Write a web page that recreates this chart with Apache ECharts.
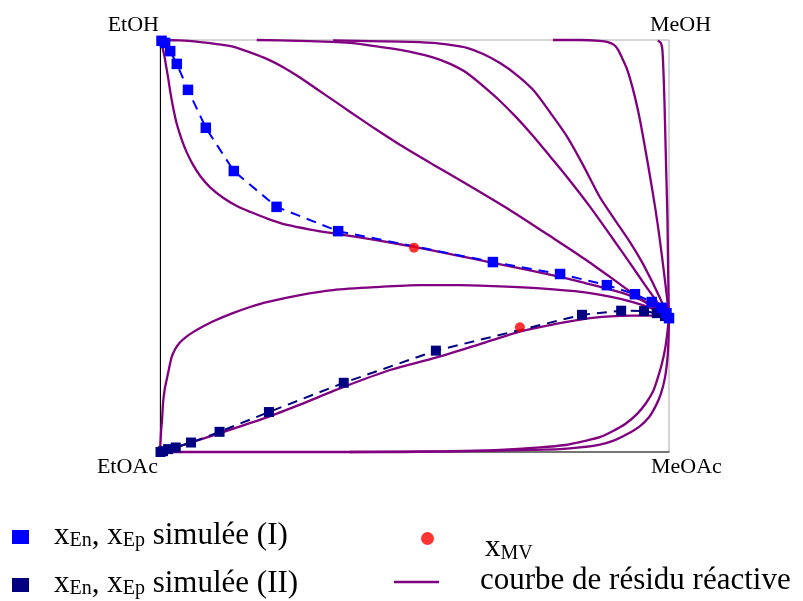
<!DOCTYPE html>
<html><head><meta charset="utf-8">
<script src="https://cdn.jsdelivr.net/npm/echarts@6/dist/echarts.min.js"></script>
<style>html,body{margin:0;padding:0;background:#fff}#c{width:803px;height:601px}</style>
</head><body><div id="c"></div>
<script>
// Corner (component) labels
const cornerLabels = ['EtOH', 'MeOH', 'EtOAc', 'MeOAc'];
// Series names
const nameSimI = 'x_En, x_Ep simulée (I)';
const nameSimII = 'x_En, x_Ep simulée (II)';
const nameMV = 'x_MV';
const nameRC = 'courbe de résidu réactive';

// simulated profile (I)  [x, y]
const simI = [[0.003,0.998],[0.010,0.993],[0.020,0.973],[0.033,0.942],[0.055,0.879],[0.090,0.787],[0.145,0.682],[0.229,0.595],[0.350,0.536],[0.654,0.461],[0.786,0.432],[0.878,0.405],[0.933,0.383],[0.966,0.364],[0.986,0.350],[0.995,0.337],[1.0,0.325]];
// simulated profile (II)
const simII = [[0.001,0.0],[0.006,0.002],[0.016,0.007],[0.031,0.011],[0.061,0.023],[0.117,0.049],[0.214,0.097],[0.361,0.168],[0.542,0.246],[0.829,0.333],[0.906,0.343],[0.951,0.342],[0.976,0.337],[0.992,0.330],[1.0,0.325]];
// x_MV points
const xMV = [[0.499,0.496],[0.707,0.303]];

// reactive residue curves
const rcF = [[0,1],[0.003,0.990],[0.006,0.976],[0.009,0.959],[0.012,0.937],[0.016,0.908],[0.020,0.876],[0.026,0.835],[0.033,0.796],[0.043,0.757],[0.053,0.726],[0.065,0.697],[0.079,0.670],[0.098,0.643],[0.124,0.617],[0.151,0.597],[0.177,0.583],[0.212,0.566],[0.250,0.551],[0.295,0.540],[0.350,0.529],[0.422,0.515],[0.499,0.498],[0.580,0.478],[0.654,0.459],[0.727,0.441],[0.786,0.425],[0.835,0.410],[0.876,0.397],[0.908,0.386],[0.933,0.375],[0.953,0.365],[0.967,0.357],[0.978,0.348],[0.988,0.340],[1,0.325]];
const rcG = [[0,0],[0.001,0.024],[0.002,0.049],[0.004,0.078],[0.006,0.119],[0.009,0.150],[0.013,0.175],[0.018,0.204],[0.023,0.231],[0.030,0.250],[0.039,0.266],[0.051,0.279],[0.065,0.291],[0.079,0.301],[0.108,0.319],[0.143,0.337],[0.177,0.352],[0.210,0.364],[0.275,0.381],[0.340,0.393],[0.422,0.400],[0.511,0.405],[0.589,0.405],[0.668,0.402],[0.747,0.397],[0.831,0.388],[0.884,0.377],[0.929,0.364],[0.963,0.350],[0.988,0.334],[1,0.325]];
const rcH = [[0,0],[0.033,0.012],[0.118,0.046],[0.214,0.086],[0.275,0.115],[0.361,0.158],[0.452,0.199],[0.542,0.229],[0.629,0.262],[0.707,0.292],[0.766,0.308],[0.829,0.322],[0.884,0.329],[0.929,0.331],[0.963,0.331],[0.988,0.330],[1,0.325]];
const rcC = [[0,1],[0.039,0.999],[0.079,0.995],[0.112,0.990],[0.143,0.984],[0.177,0.970],[0.212,0.953],[0.242,0.934],[0.275,0.909],[0.308,0.881],[0.340,0.854],[0.373,0.826],[0.422,0.785],[0.472,0.745],[0.536,0.698],[0.603,0.650],[0.688,0.587],[0.780,0.513],[0.835,0.468],[0.884,0.425],[0.923,0.390],[0.953,0.364],[0.978,0.343],[1,0.325]];
const rcB = [[0.190,1.0],[0.275,0.998],[0.373,0.993],[0.422,0.985],[0.472,0.976],[0.536,0.958],[0.570,0.942],[0.603,0.920],[0.635,0.888],[0.668,0.852],[0.701,0.811],[0.733,0.767],[0.766,0.718],[0.800,0.667],[0.845,0.595],[0.890,0.517],[0.923,0.459],[0.953,0.405],[0.978,0.362],[1,0.325]];
const rcA = [[0.340,0.999],[0.472,0.996],[0.536,0.993],[0.570,0.988],[0.603,0.981],[0.635,0.966],[0.668,0.944],[0.701,0.915],[0.733,0.879],[0.766,0.825],[0.800,0.765],[0.831,0.697],[0.864,0.619],[0.894,0.563],[0.923,0.510],[0.947,0.461],[0.967,0.413],[0.984,0.369],[1,0.325]];
const rcD = [[0.772,1],[0.825,1.0],[0.864,0.998],[0.880,0.995],[0.892,0.988],[0.900,0.976],[0.908,0.956],[0.916,0.934],[0.923,0.908],[0.933,0.862],[0.943,0.806],[0.953,0.738],[0.963,0.667],[0.973,0.592],[0.982,0.515],[0.990,0.437],[0.996,0.376],[1,0.325]];
const rcE = [[0.978,0.999],[0.984,0.993],[0.987,0.976],[0.989,0.927],[0.991,0.854],[0.993,0.757],[0.995,0.660],[0.997,0.563],[0.998,0.466],[0.999,0.381],[1,0.325]];
const rcB1 = [[0,0],[0.275,0],[0.472,0.000],[0.609,0.002],[0.727,0.005],[0.786,0.007],[0.825,0.011],[0.864,0.018],[0.894,0.029],[0.919,0.044],[0.943,0.063],[0.961,0.085],[0.974,0.112],[0.984,0.141],[0.992,0.180],[0.997,0.228],[0.999,0.272],[1,0.325]];
const rcB2 = [[0.373,0],[0.570,0.002],[0.668,0.005],[0.747,0.011],[0.796,0.017],[0.835,0.027],[0.864,0.036],[0.890,0.051],[0.914,0.068],[0.937,0.092],[0.955,0.119],[0.969,0.148],[0.978,0.180],[0.986,0.214],[0.992,0.248],[0.996,0.282],[1,0.325]];
const residueCurves = [rcF, rcG, rcH, rcC, rcB, rcA, rcD, rcE, rcB1, rcB2];

const SERIF = 'Liberation Serif';
const PURPLE = '#800080';
const richStyles = {
  sp: { width: 20 },
  spMV: { width: 46 },
  spRC: { width: 36 },
  m: { fontFamily: SERIF, fontSize: 31, lineHeight: 36, verticalAlign: 'bottom', color: '#000' },
  s: { fontFamily: SERIF, fontSize: 20, lineHeight: 18, verticalAlign: 'bottom', color: '#000' }
};
const legendText = {};
legendText[nameSimI] = '{sp|}{m|x}{s|En}{m|, x}{s|Ep}{m| simulée (I)}';
legendText[nameSimII] = '{sp|}{m|x}{s|En}{m|, x}{s|Ep}{m| simulée (II)}';
legendText[nameMV] = '{spMV|}{m|x}{s|MV}';
legendText[nameRC] = '{spRC|}{m|' + nameRC + '}';

function legendFor(name, pos, icon, w, h, extraPad) {
  return Object.assign({
    data: [name], icon: icon, itemWidth: w, itemHeight: h, padding: 0,
    orient: 'horizontal', selectedMode: false,
    formatter: n => legendText[n],
    textStyle: { rich: richStyles, padding: extraPad || 0 }
  }, pos);
}

const series = [];
residueCurves.forEach(c => series.push({
  name: nameRC, type: 'line', data: c, smooth: 0.25, showSymbol: false, symbol: 'none',
  clip: false, lineStyle: { color: PURPLE, width: 2.3 }, itemStyle: { color: PURPLE }, z: 2
}));
series.push({
  name: nameSimII, type: 'line', data: simII, symbol: 'rect', symbolSize: 10, clip: false,
  lineStyle: { color: '#000080', width: 2, type: [10, 7] }, itemStyle: { color: '#000080' }, z: 3
});
series.push({
  name: nameSimI, type: 'line', data: simI, symbol: 'rect', symbolSize: 10.5, clip: false,
  lineStyle: { color: '#0000ff', width: 2, type: [10, 7] }, itemStyle: { color: '#0000ff' }, z: 4
});
series.push({
  name: nameMV, type: 'scatter', data: xMV, symbol: 'circle', symbolSize: 10, clip: false,
  itemStyle: { color: '#ff0000' }, z: 5
});

const chart = echarts.init(document.getElementById('c'), null, { renderer: 'canvas' });
chart.setOption({
  animation: false,
  backgroundColor: '#fff',
  grid: { left: 160, top: 40, width: 509, height: 412, show: true, borderColor: '#aaaaaa', borderWidth: 1, backgroundColor: 'transparent' },
  xAxis: { type: 'value', min: 0, max: 1, axisLine: { show: true, onZero: false, lineStyle: { color: '#555', width: 1.5 } }, axisTick: { show: false }, axisLabel: { show: false }, splitLine: { show: false } },
  yAxis: { type: 'value', min: 0, max: 1, axisLine: { show: true, onZero: false, lineStyle: { color: '#000', width: 1 } }, axisTick: { show: false }, axisLabel: { show: false }, splitLine: { show: false } },
  legend: [
    legendFor(nameSimI, { left: 12, top: 520 }, 'rect', 17, 14, [0, 0, 8, 0]),
    legendFor(nameSimII, { left: 12, top: 568 }, 'rect', 17, 14, [0, 0, 8, 0]),
    legendFor(nameMV, { left: 421, top: 532 }, 'circle', 13, 13, [14, 0, 0, 0]),
    legendFor(nameRC, { left: 394, top: 565 }, 'rect', 45, 2.5, [0, 0, 8, 0])
  ],
  graphic: [
    { type: 'text', x: 159, y: 25, style: { text: cornerLabels[0], font: '22px "' + SERIF + '"', fill: '#000', textAlign: 'right', textVerticalAlign: 'middle' } },
    { type: 'text', x: 650, y: 25, style: { text: cornerLabels[1], font: '22px "' + SERIF + '"', fill: '#000', textAlign: 'left', textVerticalAlign: 'middle' } },
    { type: 'text', x: 158, y: 467, style: { text: cornerLabels[2], font: '22px "' + SERIF + '"', fill: '#000', textAlign: 'right', textVerticalAlign: 'middle' } },
    { type: 'text', x: 651, y: 467, style: { text: cornerLabels[3], font: '22px "' + SERIF + '"', fill: '#000', textAlign: 'left', textVerticalAlign: 'middle' } }
  ],
  series: series
});
</script></body></html>
